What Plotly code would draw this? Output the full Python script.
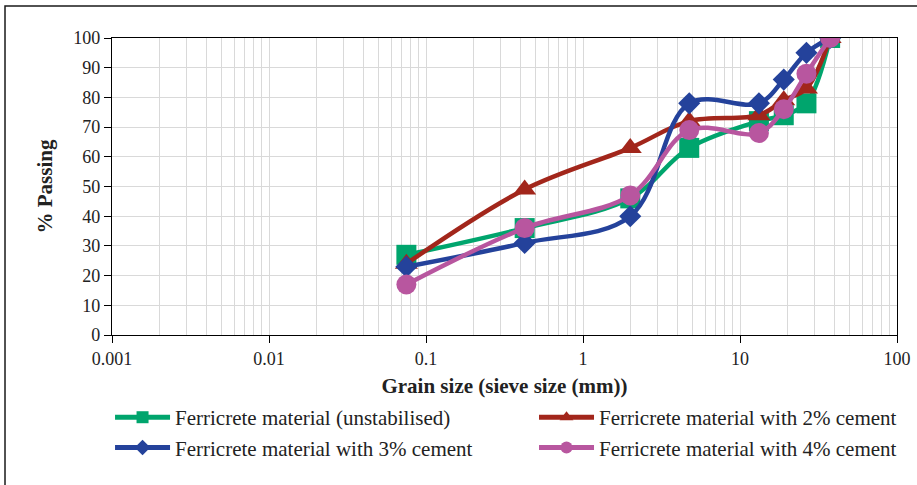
import plotly.graph_objects as go

# Sieve sizes (mm) and percentage passing for each mix
sieve_mm = [0.075, 0.425, 2.0, 4.75, 13.2, 19.0, 26.5, 37.5]
unstabilised = [27, 36, 46, 63, 72, 74, 78, 100]
cement_2 = [24, 49, 63, 72, 74, 79, 83, 100]
cement_3 = [23, 31, 40, 78, 78, 86, 95, 100]
cement_4 = [17, 36, 47, 69, 68, 76, 88, 100]

series_names = [
    "Ferricrete material (unstabilised)",
    "Ferricrete material with 2% cement",
    "Ferricrete material with 3% cement",
    "Ferricrete material with 4% cement",
]
series_values = [unstabilised, cement_2, cement_3, cement_4]
series_colors = ["#00a56d", "#a2261b", "#24429b", "#b8569f"]
series_symbols = ["square", "triangle-up", "diamond", "circle"]
series_sizes = [20, 20, 17, 20]
# Two-column key: left column holds the 1st and 3rd series, right column the others
series_legend = ["legend", "legend2", "legend", "legend2"]

x_tick_vals = [0.001, 0.01, 0.1, 1, 10, 100]
x_tick_text = ["0.001", "0.01", "0.1", "1", "10", "100"]

FONT = "Liberation Serif"
TEXT = "#222222"
GRID = "#d9d9d9"

fig = go.Figure()
for name, vals, col, sym, sz, leg in zip(series_names, series_values, series_colors,
                                         series_symbols, series_sizes, series_legend):
    fig.add_trace(go.Scatter(
        x=sieve_mm, y=vals, name=name, mode="lines+markers", legend=leg,
        line=dict(color=col, width=4.5, shape="spline", smoothing=1.0),
        marker=dict(symbol=sym, size=sz, color=col, line=dict(width=0)),
    ))

legend_style = dict(
    orientation="v", xanchor="left", y=-0.209, yanchor="top",
    font=dict(family=FONT, size=21, color=TEXT),
    itemsizing="constant", itemwidth=55,
    bgcolor="rgba(0,0,0,0)", tracegroupgap=0,
)

fig.update_layout(
    width=917, height=485,
    margin=dict(l=112, r=20, t=38, b=150, autoexpand=False),
    paper_bgcolor="white", plot_bgcolor="white",
    font=dict(family=FONT, size=18, color=TEXT),
    showlegend=True,
    legend=dict(x=-0.0025, **legend_style),
    legend2=dict(x=0.5376, **legend_style),
)

fig.update_xaxes(
    type="log", range=[-3, 2],
    tickvals=x_tick_vals, ticktext=x_tick_text,
    ticks="outside", ticklen=7, tickcolor="black", tickwidth=1,
    showline=True, linecolor="black", linewidth=1.2, mirror=True,
    showgrid=True, gridcolor=GRID, gridwidth=1,
    minor=dict(dtick="D1", showgrid=True, gridcolor=GRID, gridwidth=1, ticks=""),
    zeroline=False,
    tickfont=dict(family=FONT, size=18, color=TEXT),
    title=dict(text="<b>Grain size (sieve size (mm))</b>", standoff=10,
               font=dict(family=FONT, size=21, color=TEXT)),
)
fig.update_yaxes(
    range=[0, 100], dtick=10,
    ticks="outside", ticklen=7, tickcolor="black", tickwidth=1,
    showline=True, linecolor="black", linewidth=1.2, mirror=True,
    showgrid=True, gridcolor=GRID, gridwidth=1,
    zeroline=False,
    tickfont=dict(family=FONT, size=18, color=TEXT),
    title=dict(text="<b>% Passing</b>", standoff=14,
               font=dict(family=FONT, size=21, color=TEXT)),
)

# Frame around the whole figure
fig.add_shape(type="rect", xref="paper", yref="paper",
              x0=-0.1363, x1=1.05, y0=-0.6, y1=1.1077,
              line=dict(color="#1a1a1a", width=1.5), layer="above")

fig.write_html("out.html")
